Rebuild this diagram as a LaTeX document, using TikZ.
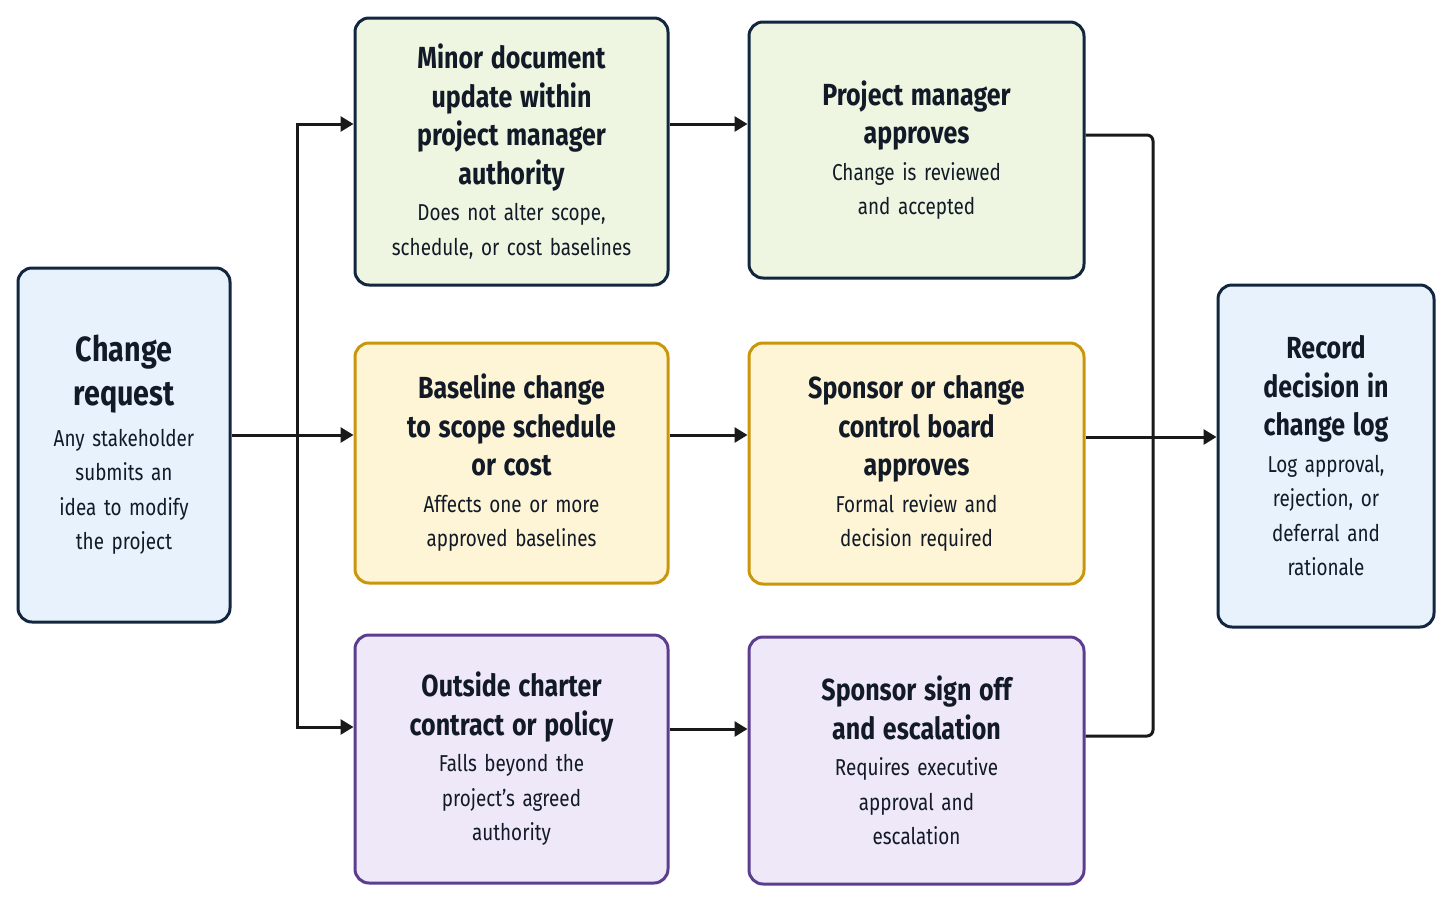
\documentclass[tikz,border=0pt]{standalone}
\usepackage{fontspec}
\setmainfont{Fira Sans}
\usetikzlibrary{arrows.meta}
\definecolor{navy}{HTML}{12263F}
\definecolor{ink}{HTML}{111A26}
\definecolor{bfill}{HTML}{E8F2FC}
\definecolor{gfill}{HTML}{EEF6E2}
\definecolor{yfill}{HTML}{FEF4D6}
\definecolor{ybord}{HTML}{C9960C}
\definecolor{pfill}{HTML}{EFE8F8}
\definecolor{pbord}{HTML}{5B3E8E}
\tikzset{
 box/.style={draw=navy, text=ink, line width=3pt, rounded corners=14pt, align=center, inner sep=0pt, font=\fontsize{23}{34.5}\selectfont\addfontfeatures{FakeStretch=0.82}},
 bl/.style={box, fill=bfill},
 gr/.style={box, fill=gfill},
 ye/.style={box, fill=yfill, draw=ybord},
 pu/.style={box, fill=pfill, draw=pbord},
 conn/.style={draw=black!90, line width=3pt, -{Triangle[length=13pt,width=15pt]}},
 line/.style={draw=black!90, line width=3pt}
}
\newcommand{\boxttl}[1]{{\fontsize{30.5}{38.5}\selectfont\bfseries\addfontfeatures{FakeStretch=0.82}#1\par}\vspace{2pt}}
\newcommand{\bigttl}[1]{{\fontsize{35}{44}\selectfont\bfseries\addfontfeatures{FakeStretch=0.82}#1\par}\vspace{6pt}}
\begin{document}
\begin{tikzpicture}[x=1pt,y=-1pt]
\useasboundingbox[fill=white] (0,0) rectangle (1452,903);
\node[bl, minimum width=212pt, minimum height=354pt, text width=205pt] (cr) at (124,445)
 {\bigttl{Change\\request}Any stakeholder\\submits an\\idea to modify\\the project};
\node[gr, minimum width=313pt, minimum height=267pt, text width=308pt] (md) at (511.5,151.5)
 {\boxttl{Minor document\\update within\\project manager\\authority}Does not alter scope,\\schedule, or cost baselines};
\node[gr, minimum width=335pt, minimum height=256pt, text width=320pt] (pm) at (916.5,150)
 {\boxttl{Project manager\\approves}Change is reviewed\\and accepted};
\node[ye, minimum width=313pt, minimum height=240pt, text width=308pt] (bc) at (511.5,463)
 {\boxttl{Baseline change\\to scope schedule\\or cost}Affects one or more\\approved baselines};
\node[ye, minimum width=335pt, minimum height=241pt, text width=320pt] (sc) at (916.5,463.5)
 {\boxttl{Sponsor or change\\control board\\approves}Formal review and\\decision required};
\node[pu, minimum width=313pt, minimum height=248pt, text width=308pt] (oc) at (511.5,759)
 {\boxttl{Outside charter\\contract or policy}Falls beyond the\\project’s agreed\\authority};
\node[pu, minimum width=335pt, minimum height=247pt, text width=320pt] (so) at (916.5,760.5)
 {\boxttl{Sponsor sign off\\and escalation}Requires executive\\approval and\\escalation};
\node[bl, minimum width=216pt, minimum height=342pt, text width=210pt] (rd) at (1326,456)
 {\boxttl{Record\\decision in\\change log}Log approval,\\rejection, or\\deferral and\\rationale};
\coordinate (sp) at (297,435);
\coordinate (jn) at (1153,437);
\draw[conn] (cr.east |- sp) -- (bc.west |- sp);
\draw[conn] (sp) |- (md.west |- 0,124);
\draw[conn] (sp) |- (oc.west |- 0,727);
\draw[conn] (md.east |- 0,124) -- (pm.west |- 0,124);
\draw[conn] (bc.east |- 0,435) -- (sc.west |- 0,435);
\draw[conn] (oc.east |- 0,729) -- (so.west |- 0,729);
\draw[line, rounded corners=6pt] (pm.east |- 0,135) -| (jn) |- (so.east |- 0,736);
\draw[conn] (sc.east |- jn) -- (rd.west |- jn);
\end{tikzpicture}
\end{document}
